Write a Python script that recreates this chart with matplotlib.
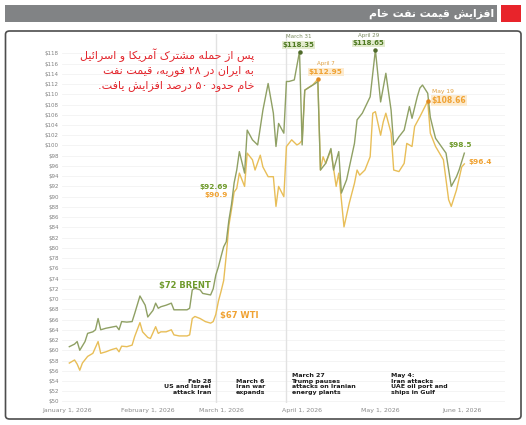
import re
import matplotlib
matplotlib.use("Agg")
import matplotlib.pyplot as plt
import matplotlib.dates as mdates
from matplotlib.patches import Rectangle, FancyBboxPatch
import pandas as pd

# ---------------- data ----------------
brent_dates = ["2026-01-02", "2026-01-04", "2026-01-05", "2026-01-06", "2026-01-08", "2026-01-09",
               "2026-01-11", "2026-01-12", "2026-01-13", "2026-01-14", "2026-01-16", "2026-01-18",
               "2026-01-20", "2026-01-21", "2026-01-22", "2026-01-24", "2026-01-26", "2026-01-27",
               "2026-01-29", "2026-01-31", "2026-02-01", "2026-02-03", "2026-02-04", "2026-02-05",
               "2026-02-06", "2026-02-08", "2026-02-10", "2026-02-11", "2026-02-13", "2026-02-16",
               "2026-02-17", "2026-02-18", "2026-02-19", "2026-02-21", "2026-02-22", "2026-02-25",
               "2026-02-26", "2026-02-27", "2026-02-28", "2026-03-01", "2026-03-02", "2026-03-03",
               "2026-03-04", "2026-03-05", "2026-03-06", "2026-03-07", "2026-03-08", "2026-03-10",
               "2026-03-11", "2026-03-13", "2026-03-15", "2026-03-17", "2026-03-19", "2026-03-21",
               "2026-03-22", "2026-03-23", "2026-03-25", "2026-03-26", "2026-03-27", "2026-03-29",
               "2026-03-31", "2026-04-01", "2026-04-02", "2026-04-06", "2026-04-07", "2026-04-08",
               "2026-04-10", "2026-04-12", "2026-04-13", "2026-04-15", "2026-04-16", "2026-04-18",
               "2026-04-21", "2026-04-22", "2026-04-24", "2026-04-27", "2026-04-29", "2026-05-01",
               "2026-05-03", "2026-05-05", "2026-05-06", "2026-05-08", "2026-05-10", "2026-05-12",
               "2026-05-13", "2026-05-15", "2026-05-16", "2026-05-17", "2026-05-19", "2026-05-20",
               "2026-05-21", "2026-05-22", "2026-05-26", "2026-05-28", "2026-05-30", "2026-05-31",
               "2026-06-02"]
brent_vals = [60.7, 61.2, 61.7, 60.0, 61.7, 63.3,
              63.6, 64.0, 66.2, 64.0, 64.3, 64.5,
              64.7, 64.0, 65.6, 65.5, 65.6, 67.2,
              70.6, 68.8, 66.5, 67.8, 69.2, 68.2,
              68.5, 68.8, 69.2, 67.9, 67.9, 67.9,
              68.2, 71.8, 72.1, 71.8, 71.1, 70.8,
              72.0, 74.7, 76.3, 78.3, 80.2, 81.2,
              85.4, 88.5, 92.69, 95.2, 98.8, 94.6,
              103.0, 101.1, 100.1, 106.9, 112.1, 106.3,
              99.8, 104.3, 102.4, 112.5, 112.5, 112.8,
              118.35, 100.1, 110.8, 112.1, 112.5, 95.2,
              96.5, 99.4, 95.2, 98.8, 90.7, 93.3,
              100.4, 105.0, 106.3, 109.5, 118.65, 108.5,
              114.1, 106.9, 100.1, 101.7, 103.0, 107.6,
              105.3, 109.5, 111.2, 111.8, 110.2, 105.5,
              103.4, 101.4, 98.5, 92.0, 93.9, 95.2,
              98.5]

wti_dates = ["2026-01-02", "2026-01-04", "2026-01-05", "2026-01-06", "2026-01-07", "2026-01-09",
             "2026-01-10", "2026-01-11", "2026-01-13", "2026-01-14", "2026-01-16", "2026-01-18",
             "2026-01-20", "2026-01-21", "2026-01-22", "2026-01-24", "2026-01-26", "2026-01-27",
             "2026-01-29", "2026-01-30", "2026-02-01", "2026-02-02", "2026-02-04", "2026-02-05",
             "2026-02-06", "2026-02-08", "2026-02-10", "2026-02-11", "2026-02-13", "2026-02-16",
             "2026-02-17", "2026-02-18", "2026-02-19", "2026-02-21", "2026-02-23", "2026-02-25",
             "2026-02-26", "2026-02-27", "2026-02-28", "2026-03-01", "2026-03-02", "2026-03-03",
             "2026-03-04", "2026-03-05", "2026-03-06", "2026-03-07", "2026-03-08", "2026-03-10",
             "2026-03-11", "2026-03-13", "2026-03-14", "2026-03-16", "2026-03-17", "2026-03-19",
             "2026-03-21", "2026-03-22", "2026-03-23", "2026-03-25", "2026-03-26", "2026-03-28",
             "2026-03-30", "2026-03-31", "2026-04-01", "2026-04-02", "2026-04-04", "2026-04-05",
             "2026-04-07", "2026-04-08", "2026-04-09", "2026-04-10", "2026-04-12", "2026-04-14",
             "2026-04-15", "2026-04-17", "2026-04-19", "2026-04-21", "2026-04-22", "2026-04-23",
             "2026-04-25", "2026-04-27", "2026-04-28", "2026-04-29", "2026-05-01", "2026-05-02",
             "2026-05-03", "2026-05-05", "2026-05-06", "2026-05-08", "2026-05-10", "2026-05-11",
             "2026-05-13", "2026-05-14", "2026-05-16", "2026-05-19", "2026-05-20", "2026-05-22",
             "2026-05-25", "2026-05-26", "2026-05-27", "2026-05-28", "2026-05-30", "2026-06-01",
             "2026-06-02"]
wti_vals = [57.5, 58.1, 57.3, 56.1, 57.5, 58.8,
            59.1, 59.4, 61.7, 59.4, 59.7, 60.1,
            60.4, 59.7, 60.8, 60.7, 61.0, 62.7,
            65.4, 63.6, 62.5, 62.3, 64.6, 63.3,
            63.6, 63.6, 64.0, 63.0, 62.8, 62.8,
            63.0, 66.2, 66.6, 66.2, 65.6, 65.3,
            65.6, 67.0, 69.6, 71.5, 73.6, 78.6,
            84.4, 87.5, 90.9, 91.6, 94.6, 92.0,
            98.5, 97.2, 95.2, 98.1, 95.8, 93.9,
            93.9, 88.1, 92.0, 90.0, 99.8, 101.1,
            100.1, 100.4, 101.0, 110.8, 111.5, 111.8,
            112.95, 95.2, 97.8, 96.5, 99.1, 92.0,
            94.6, 84.1, 88.7, 92.6, 95.2, 94.2,
            95.2, 97.8, 106.3, 106.6, 102.0, 104.6,
            106.3, 102.4, 95.2, 94.9, 96.5, 100.4,
            99.8, 103.7, 105.6, 108.66, 102.4, 99.8,
            97.2, 93.3, 89.4, 88.1, 91.3, 95.8,
            96.4]

x_tick_dates = ["2026-01-01", "2026-02-01", "2026-03-01", "2026-04-01", "2026-05-01", "2026-06-01"]
x_tick_labels = ["January 1, 2026", "February 1, 2026", "March 1, 2026",
                 "April 1, 2026", "May 1, 2026", "June 1, 2026"]
y_ticks = list(range(50, 119, 2))
event_line_dates = ["2026-02-27", "2026-03-26"]

title_fa = "افزایش قیمت نفت خام"
note_fa = ["پس از حمله مشترک آمریکا و اسرائیل",
           "به ایران در ۲۸ فوریه، قیمت نفت",
           "خام حدود ۵۰ درصد افزایش یافت."]

# ---------------- Persian shaping (presentation forms + visual order) ----------------
FORMS = {
    '\u0627': ('\uFE8D', '\uFE8E'),
    '\u0622': ('\uFE81', '\uFE82'),
    '\u0628': ('\uFE8F', '\uFE90', '\uFE91', '\uFE92'),
    '\u067E': ('\uFB56', '\uFB57', '\uFB58', '\uFB59'),
    '\u062A': ('\uFE95', '\uFE96', '\uFE97', '\uFE98'),
    '\u062D': ('\uFEA1', '\uFEA2', '\uFEA3', '\uFEA4'),
    '\u062E': ('\uFEA5', '\uFEA6', '\uFEA7', '\uFEA8'),
    '\u062F': ('\uFEA9', '\uFEAA'),
    '\u0631': ('\uFEAD', '\uFEAE'),
    '\u0632': ('\uFEAF', '\uFEB0'),
    '\u0633': ('\uFEB1', '\uFEB2', '\uFEB3', '\uFEB4'),
    '\u0634': ('\uFEB5', '\uFEB6', '\uFEB7', '\uFEB8'),
    '\u0635': ('\uFEB9', '\uFEBA', '\uFEBB', '\uFEBC'),
    '\u0641': ('\uFED1', '\uFED2', '\uFED3', '\uFED4'),
    '\u0642': ('\uFED5', '\uFED6', '\uFED7', '\uFED8'),
    '\u06A9': ('\uFB8E', '\uFB8F', '\uFB90', '\uFB91'),
    '\u0644': ('\uFEDD', '\uFEDE', '\uFEDF', '\uFEE0'),
    '\u0645': ('\uFEE1', '\uFEE2', '\uFEE3', '\uFEE4'),
    '\u0646': ('\uFEE5', '\uFEE6', '\uFEE7', '\uFEE8'),
    '\u0647': ('\uFEE9', '\uFEEA', '\uFEEB', '\uFEEC'),
    '\u0648': ('\uFEED', '\uFEEE'),
    '\u06CC': ('\uFBFC', '\uFBFD', '\uFBFE', '\uFBFF'),
    '\u0626': ('\uFE89', '\uFE8A', '\uFE8B', '\uFE8C'),
}


def fa(s):
    s = s.replace('\u0643', '\u06A9').replace('\u064A', '\u06CC').replace('\u200c', '')
    out = []
    n = len(s)
    for i, c in enumerate(s):
        f = FORMS.get(c)
        if f is None:
            out.append(c)
            continue
        p = s[i - 1] if i > 0 else ''
        q = s[i + 1] if i < n - 1 else ''
        jp = p in FORMS and len(FORMS[p]) == 4
        jn = len(f) == 4 and q in FORMS
        if jp and jn:
            out.append(f[3])
        elif jp:
            out.append(f[1])
        elif jn:
            out.append(f[2])
        else:
            out.append(f[0])
    toks = re.findall(r'[0-9\u06F0-\u06F9]+|.', ''.join(out))
    return ''.join(reversed(toks))


# ---------------- figure ----------------
W, H = 526, 425
fig = plt.figure(figsize=(W / 100, H / 100), dpi=100)
fig.patch.set_facecolor('white')


def fx(x):
    return x / W


def fy(y):
    return 1 - y / H


# title bar
fig.patches.append(Rectangle((fx(5), fy(22)), fx(497) - fx(5), fy(5) - fy(22),
                             transform=fig.transFigure, facecolor='#818385', edgecolor='none'))
fig.patches.append(Rectangle((fx(501), fy(22)), fx(520.5) - fx(501), fy(5) - fy(22),
                             transform=fig.transFigure, facecolor='#e8242b', edgecolor='none'))
fig.text(fx(494), fy(13.5), fa(title_fa), color='white', fontsize=7.8, fontweight='bold',
         ha='right', va='center', family='DejaVu Sans')

# frame
fig.patches.append(FancyBboxPatch((fx(5.5), fy(419)), fx(521) - fx(5.5), fy(31) - fy(419),
                                  boxstyle='round,pad=0,rounding_size=0.008',
                                  transform=fig.transFigure, facecolor='none',
                                  edgecolor='#4d4d4d', linewidth=1.2, zorder=-1))

# axes placement (pixel based)
AX_L, AX_R, AX_T, AX_B = 62, 505, 34, 403
ax = fig.add_axes([fx(AX_L), fy(AX_B), fx(AX_R) - fx(AX_L), fy(AX_T) - fy(AX_B)])
ax.patch.set_alpha(0)

jan1 = mdates.date2num(pd.Timestamp("2026-01-01"))
PX_PER_DAY = 2.616
X0 = 66.7
ax.set_xlim(jan1 + (AX_L - X0) / PX_PER_DAY, jan1 + (AX_R - X0) / PX_PER_DAY)
PX_PER_USD = 5.12
Y118 = 53.3
ax.set_ylim(118 - (AX_B - Y118) / PX_PER_USD, 118 - (AX_T - Y118) / PX_PER_USD)

for s in ax.spines.values():
    s.set_visible(False)

ax.set_yticks(y_ticks)
ax.set_yticklabels([f"${v}" for v in y_ticks])
ax.set_xticks(mdates.date2num(pd.to_datetime(x_tick_dates)))
ax.set_xticklabels(x_tick_labels)
ax.tick_params(axis='y', length=0, pad=2.2, labelsize=4, labelcolor='#808080')
ax.tick_params(axis='x', length=0, pad=3.6, labelsize=4.5, labelcolor='#8a8a8a')
ax.yaxis.grid(True, color='#f3f3f3', linewidth=0.6)
ax.xaxis.grid(False)
ax.set_axisbelow(True)

for d in event_line_dates:
    ax.axvline(mdates.date2num(pd.Timestamp(d)), color='#e2e2e2', linewidth=1.0, zorder=1)

BRENT_LINE = '#8fa064'
BRENT_TXT = '#6f9a2c'
WTI_LINE = '#e8be58'
WTI_TXT = '#f0a232'

bd = mdates.date2num(pd.to_datetime(brent_dates))
wd = mdates.date2num(pd.to_datetime(wti_dates))
ax.plot(wd, wti_vals, color=WTI_LINE, linewidth=1.0, zorder=3)
ax.plot(bd, brent_vals, color=BRENT_LINE, linewidth=1.0, zorder=4)


def pt(dates, vals, date):
    i = dates.index(date)
    return mdates.date2num(pd.Timestamp(date)), vals[i]


# peak markers
for dates, vals, d, c in [(brent_dates, brent_vals, "2026-03-31", '#4f6a2a'),
                          (brent_dates, brent_vals, "2026-04-29", '#4f6a2a'),
                          (wti_dates, wti_vals, "2026-04-07", '#e08a20'),
                          (wti_dates, wti_vals, "2026-05-19", '#e08a20')]:
    x, y = pt(dates, vals, d)
    ax.plot([x], [y], 'o', color=c, markersize=2.2, zorder=5)


def lab(dates, vals, d, text, dx, dy, color, size, weight='bold', ha='center', box=None):
    x, y = pt(dates, vals, d)
    kw = {}
    if box:
        kw['bbox'] = dict(boxstyle='square,pad=0.12', facecolor=box, edgecolor='none')
    ax.annotate(text, xy=(x, y), xytext=(dx, dy), textcoords='offset pixels',
                ha=ha, va='center', fontsize=size, fontweight=weight, color=color, zorder=6, **kw)


lab(brent_dates, brent_vals, "2026-03-31", "March 31", -1, 15.5, '#7b8a60', 4, weight='normal')
lab(brent_dates, brent_vals, "2026-03-31", "$118.35", -1, 6.5, '#4f7a22', 5, box='#e3ebcf')
lab(wti_dates, wti_vals, "2026-04-07", "April 7", 8, 16, '#e0a040', 4, weight='normal')
lab(wti_dates, wti_vals, "2026-04-07", "$112.95", 8, 7.5, WTI_TXT, 5.3, box='#fcebd0')
lab(brent_dates, brent_vals, "2026-04-29", "April 29", -7, 14, '#7b8a60', 4, weight='normal')
lab(brent_dates, brent_vals, "2026-04-29", "$118.65", -7, 6.5, '#4f7a22', 5, box='#e3ebcf')
lab(wti_dates, wti_vals, "2026-05-19", "May 19", 4, 9.5, '#e0a040', 4.3, weight='normal', ha='left')
lab(wti_dates, wti_vals, "2026-05-19", "$108.66", 4, 1, WTI_TXT, 5.5, ha='left', box='#fcebd0')
lab(brent_dates, brent_vals, "2026-06-02", "$98.5", -4, 8, BRENT_TXT, 5.3)
lab(wti_dates, wti_vals, "2026-06-02", "$96.4", 4, 2, WTI_TXT, 5.3, ha='left')
lab(brent_dates, brent_vals, "2026-03-06", "$92.69", -6, -4, BRENT_TXT, 5.3, ha='right')
lab(wti_dates, wti_vals, "2026-03-06", "$90.9", -6, -3, WTI_TXT, 5.3, ha='right')
lab(brent_dates, brent_vals, "2026-02-26", "$72 BRENT", -2, 3, BRENT_TXT, 6, ha='right')
lab(wti_dates, wti_vals, "2026-02-27", "$67 WTI", 4, -1, WTI_TXT, 6, ha='left')

# event notes
ev_kw = dict(fontsize=4.5, fontweight='bold', color='#1a1a1a', va='bottom', linespacing=1.15)
fig.text(fx(211), fy(395), "Feb 28\nUS and Israel\nattack Iran", ha='right', multialignment='right', **ev_kw)
fig.text(fx(235.5), fy(395), "March 6\nIran war\nexpands", ha='left', **ev_kw)
fig.text(fx(291.5), fy(395), "March 27\nTrump pauses\nattacks on Iranian\nenergy plants", ha='left', **ev_kw)
fig.text(fx(391), fy(395), "May 4:\nIran attacks\nUAE oil port and\nships in Gulf", ha='left', **ev_kw)

# Persian note
for i, line in enumerate(note_fa):
    fig.text(fx(254), fy(55 + i * 16), fa(line), color='#e3262d', fontsize=8,
             ha='right', va='center', family='DejaVu Sans')

fig.savefig("out.png", dpi=100, facecolor='white')
